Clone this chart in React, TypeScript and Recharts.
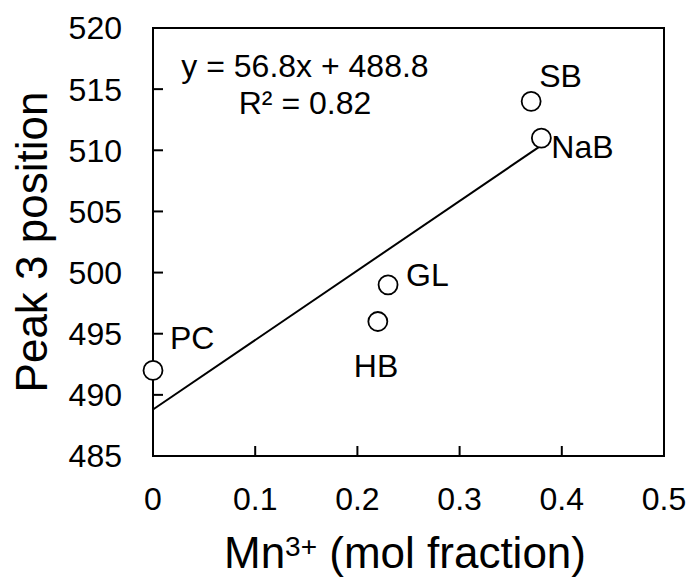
import {
  ReferenceArea,
  ReferenceLine,
  Scatter,
  ScatterChart,
  XAxis,
  YAxis,
} from 'recharts'

const sampleNames = ['PC', 'HB', 'GL', 'SB', 'NaB']
const mn3Fraction = [0, 0.22, 0.23, 0.37, 0.38]
const peak3Position = [492, 496, 499, 514, 511]

const xTicks = [0, 0.1, 0.2, 0.3, 0.4, 0.5]
const yTicks = [485, 490, 495, 500, 505, 510, 515, 520]

// linear fit shown on the chart
const fitX = [0, 0.38]
const fitY = [488.8, 510.4]
const fitEquation = 'y = 56.8x + 488.8'
const fitR2 = 'R² = 0.82'

const points = sampleNames.map((name, i) => ({
  name,
  x: mn3Fraction[i],
  y: peak3Position[i],
}))

// where each sample's name sits relative to its marker
const labelOffset: Record<string, [number, number]> = {
  PC: [17, -21],
  HB: [-24, 56],
  GL: [18, 1],
  SB: [8, -14],
  NaB: [10, 20],
}

const font = '"Liberation Sans", Arial, sans-serif'

function Marker(props: any) {
  const { cx, cy, payload } = props
  const [dx, dy] = labelOffset[payload.name] ?? [12, 0]
  return (
    <g>
      <circle cx={cx} cy={cy} r={9.5} fill="#fff" stroke="#000" strokeWidth={1.8} />
      <text x={cx + dx} y={cy + dy} fontSize={32} fontFamily={font} fill="#000">
        {payload.name}
      </text>
    </g>
  )
}

const tickStyle = { fontSize: 32, fontFamily: font, fill: '#000' }

export default function App() {
  return (
    <div style={{ position: 'absolute', left: 0, top: 0, background: '#fff' }}>
      <ScatterChart
        width={692}
        height={579}
        margin={{ top: 28, right: 28, bottom: 0, left: 0 }}
      >
        <XAxis
          type="number"
          dataKey="x"
          domain={[0, 0.5]}
          ticks={xTicks}
          height={123}
          tickSize={-10}
          tickMargin={41}
          tick={tickStyle}
          axisLine={{ stroke: '#000', strokeWidth: 2 }}
          tickLine={{ stroke: '#000', strokeWidth: 2 }}
        />
        <YAxis
          type="number"
          dataKey="y"
          domain={[485, 520]}
          ticks={yTicks}
          width={153}
          tickSize={-10}
          tickMargin={41}
          tick={tickStyle}
          axisLine={{ stroke: '#000', strokeWidth: 2 }}
          tickLine={{ stroke: '#000', strokeWidth: 2 }}
        />
        <ReferenceArea
          x1={0}
          x2={0.5}
          y1={485}
          y2={520}
          fill="none"
          fillOpacity={0}
          stroke="#000"
          strokeWidth={2}
          ifOverflow="visible"
        />
        <ReferenceLine
          segment={[
            { x: fitX[0], y: fitY[0] },
            { x: fitX[1], y: fitY[1] },
          ]}
          stroke="#000"
          strokeWidth={2}
          ifOverflow="visible"
        />
        <Scatter data={points} shape={Marker} isAnimationActive={false} />
        <text x={305} y={77} textAnchor="middle" fontSize={32} fontFamily={font} fill="#000">
          {fitEquation}
        </text>
        <text x={305} y={114} textAnchor="middle" fontSize={32} fontFamily={font} fill="#000">
          {fitR2}
        </text>
        <text
          x={47}
          y={242}
          transform="rotate(-90, 47, 242)"
          textAnchor="middle"
          fontSize={44}
          fontFamily={font}
          fill="#000"
        >
          Peak 3 position
        </text>
        <text x={405} y={568} textAnchor="middle" fontSize={44} fontFamily={font} fill="#000">
          Mn
          <tspan fontSize={28} dy={-12}>
            3+
          </tspan>
          <tspan dy={12}> (mol fraction)</tspan>
        </text>
      </ScatterChart>
    </div>
  )
}
